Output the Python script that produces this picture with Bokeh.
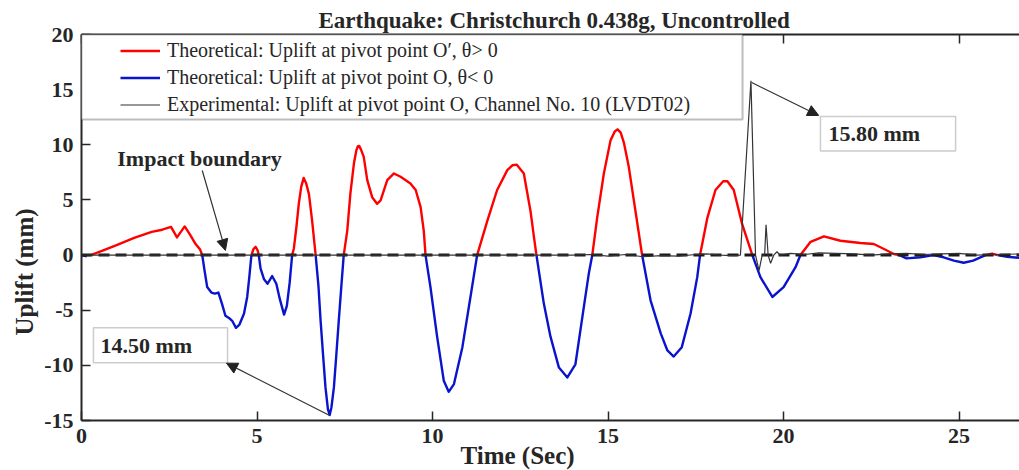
import numpy as np
from bokeh.plotting import figure
from bokeh.models import (Range1d, LinearAxis, Legend, LegendItem, Label, Arrow, Title,
                          NormalHead, BoxAnnotation, FixedTicker, PrintfTickFormatter)
from bokeh.embed import file_html
from bokeh.resources import INLINE

# ---------------- data ----------------
theo_time = [
    0, 0.15, 0.3, 0.6, 1.0, 1.5, 2.0, 2.3, 2.55, 2.72, 2.94, 3.1, 3.25, 3.38, 3.44,
    3.5, 3.58, 3.7, 3.8, 3.9, 4.0, 4.1, 4.2, 4.3, 4.4, 4.5, 4.63, 4.72, 4.78, 4.84,
    4.9, 4.96, 5.02, 5.05,
    5.1, 5.2, 5.3, 5.43, 5.55, 5.65, 5.77, 5.85, 5.93, 6.0,
    6.05, 6.12, 6.19, 6.26, 6.33, 6.4, 6.48, 6.57, 6.67,
    6.75, 6.81, 6.88, 6.95, 7.02, 7.07, 7.12, 7.19, 7.26, 7.33, 7.4, 7.47,
    7.57, 7.66, 7.76, 7.83, 7.87, 7.91, 7.97, 8.04, 8.14, 8.28, 8.42, 8.52, 8.71, 8.9, 9.09, 9.37, 9.52, 9.66, 9.75, 9.8,
    9.94, 10.13, 10.32, 10.46, 10.61, 10.85, 11.08, 11.27,
    11.56, 11.84, 12.13, 12.28, 12.4, 12.6, 12.79, 12.89, 12.96,
    13.17, 13.36, 13.6, 13.84, 14.07, 14.31, 14.45, 14.55,
    14.69, 14.88, 15.07, 15.19, 15.27, 15.36, 15.45, 15.59, 15.78, 15.97,
    16.21, 16.5, 16.69, 16.87, 17.1, 17.35, 17.54, 17.62,
    17.83, 18.06, 18.28, 18.4, 18.58, 18.82, 19.11,
    19.34, 19.68, 20.0, 20.34, 20.48,
    20.77, 21.15, 21.62, 22.19, 22.57, 22.86, 23.14, 23.3,
    23.5, 23.9, 24.27, 24.56, 24.85, 25.13, 25.4, 25.75, 25.94, 26.1, 26.37, 26.72,
]
theo_uplift = [
    0, -0.12, 0.05, 0.4, 0.9, 1.55, 2.1, 2.3, 2.55, 1.6, 2.6, 1.8, 1.0, 0.5, 0,
    -1.3, -2.9, -3.4, -3.5, -3.4, -4.4, -5.5, -5.7, -6.0, -6.6, -6.3, -5.3, -3.8, -2.0, 0,
    0.55, 0.75, 0.4, 0,
    -1.2, -2.2, -2.6, -1.9, -2.6, -4.0, -5.4, -4.6, -2.5, 0,
    0.6, 2.5, 4.65, 6.2, 7.0, 6.5, 5.5, 3.1, 0,
    -2.8, -5.9, -9.0, -12.0, -14.0, -14.5, -13.8, -12.0, -9.0, -5.9, -2.9, 0,
    2.2, 5.6, 8.3, 9.5, 9.85, 9.9, 9.5, 8.9, 6.8, 5.25, 4.65, 4.95, 6.8, 7.4, 7.1, 6.5, 5.9, 4.35, 2.2, 0,
    -2.9, -7.4, -11.4, -12.4, -11.7, -8.35, -3.8, 0,
    3.1, 5.9, 7.7, 8.15, 8.2, 7.4, 4.0, 1.6, 0,
    -4.4, -7.4, -10.2, -11.1, -9.9, -4.7, -1.7, 0,
    3.4, 7.4, 10.4, 11.2, 11.4, 11.1, 10.2, 8.0, 4.0, 0,
    -4.1, -7.1, -8.65, -9.2, -8.35, -5.3, -2.0, 0,
    3.4, 5.9, 6.7, 6.7, 5.9, 2.8, 0,
    -2.0, -3.8, -2.9, -1.1, 0,
    1.2, 1.7, 1.3, 1.1, 1.0, 0.55, 0.1, 0,
    -0.3, -0.2, 0, -0.2, -0.5, -0.7, -0.5, 0, 0.12, 0, -0.15, -0.25,
]

exp_time = [0, 1, 2, 3, 4, 5, 6, 7, 8, 9, 10, 11, 12, 13, 14,
            14.5, 15, 15.5, 16, 16.5, 17, 17.5,
            17.8, 18.2, 18.6, 18.77,
            19.07, 19.2, 19.3, 19.39, 19.46, 19.5, 19.56, 19.63, 19.72, 19.81, 19.9,
            20.2, 20.6, 21.0, 21.5, 22.0, 22.5, 23.0, 23.5, 24.0, 24.5, 25.0, 25.5, 26.0, 26.72]
exp_uplift = [0, 0, 0, 0, 0, 0, 0, 0, 0, 0, 0, 0, 0, 0, 0,
              0.05, -0.1, 0.05, -0.15, -0.05, -0.1, 0.05,
              0.1, 0, -0.05, 0,
              15.8, 0, -1.4, 0, 0, 2.75, 0, -0.75, 0, 0.3, 0,
              0.15, 0.05, 0.2, 0.15, 0.1, 0, 0.1, 0.15, 0.05, 0.1, 0.15, 0, 0.05, 0.1]

boundary_time = [0, 26.72]
boundary_uplift = [0, 0]

x_ticks = [0, 5, 10, 15, 20, 25]
y_ticks = [-15, -10, -5, 0, 5, 10, 15, 20]

legend_labels = [
    "Theoretical: Uplift at pivot point O\u2032, \u03b8> 0",
    "Theoretical: Uplift at pivot point O, \u03b8< 0",
    "Experimental: Uplift at pivot point O, Channel No. 10 (LVDT02)",
]

# ---------------- split theoretical into positive (red) / negative (blue) ----------------
tu = np.array(theo_uplift, dtype=float)
tt = np.array(theo_time, dtype=float)
red_u = np.where(tu >= 0, tu, np.nan)
blue_u = np.where(tu <= 0, tu, np.nan)

FONT = "Liberation Serif"
DARK = "#262626"

p = figure(width=1019, height=470, x_range=Range1d(0, 26.72), y_range=Range1d(-15, 20),
           output_backend="svg", toolbar_location=None,
           min_border_left=81, min_border_right=0, min_border_top=34, min_border_bottom=50,
           background_fill_color="white", border_fill_color="white")
p.outline_line_color = None
p.grid.visible = False


def style_axis(ax, ticks, labels=True):
    ax.ticker = FixedTicker(ticks=ticks)
    ax.formatter = PrintfTickFormatter(format="%d")
    ax.major_tick_in = 9
    ax.major_tick_out = 0
    ax.minor_tick_line_color = None
    ax.axis_line_width = 2
    ax.axis_line_color = DARK
    ax.major_tick_line_width = 1.5
    ax.major_tick_line_color = DARK
    ax.major_label_text_font = FONT
    ax.major_label_text_font_style = "bold"
    ax.major_label_text_color = DARK
    ax.major_label_text_font_size = "22px"
    ax.major_label_standoff = 8
    if not labels:
        ax.major_label_text_alpha = 0
        ax.major_label_standoff = 0


style_axis(p.xaxis[0], x_ticks)
style_axis(p.yaxis[0], y_ticks)
top_axis = LinearAxis()
style_axis(top_axis, x_ticks, labels=False)
top_axis.major_label_text_font_size = "1px"
p.add_layout(top_axis, "above")

# titles / axis titles as side-panel titles
p.title.text = "Earthquake: Christchurch 0.438g, Uncontrolled"
p.title.align = "left"
p.title.offset = 237
p.title.text_font = FONT
p.title.text_font_style = "bold"
p.title.text_font_size = "23px"
p.title.text_color = DARK
p.title.standoff = 3

p.add_layout(Title(text="Uplift (mm)", align="left", offset=85, standoff=7,
                   text_font=FONT, text_font_style="bold", text_font_size="25px",
                   text_color=DARK), "left")
p.add_layout(Title(text="Time (Sec)", align="left", offset=379, standoff=-12,
                   text_font=FONT, text_font_style="bold", text_font_size="25px",
                   text_color=DARK), "below")

r_red = p.line(tt, red_u, line_color="#FF0000", line_width=2.4, line_join="round")
r_blue = p.line(tt, blue_u, line_color="#0A14CC", line_width=2.4, line_join="round")
p.line(boundary_time, boundary_uplift, line_color="#1a1a1a", line_width=3, line_dash="11 6")
r_exp = p.line(exp_time, exp_uplift, line_color="#333333", line_width=1.2)

# legend frame
p.add_layout(BoxAnnotation(left=0, right=18.83, top=20, bottom=12.29,
                           fill_color="white", fill_alpha=1.0,
                           line_color=DARK, line_width=2))
legend = Legend(items=[LegendItem(label=legend_labels[0], renderers=[r_red]),
                       LegendItem(label=legend_labels[1], renderers=[r_blue]),
                       LegendItem(label=legend_labels[2], renderers=[r_exp])],
                location=(36, 299), padding=3, spacing=0, margin=0,
                label_height=27, glyph_height=27, glyph_width=40, label_standoff=7,
                border_line_alpha=0, background_fill_alpha=0,
                label_text_font=FONT, label_text_font_size="20px", label_text_color=DARK)
p.add_layout(legend)

# annotation boxes
p.add_layout(BoxAnnotation(left=21.05, right=24.9, top=12.57, bottom=9.44,
                           fill_color="white", fill_alpha=1.0, line_color="#555555", line_width=1.5))
p.add_layout(BoxAnnotation(left=0.34, right=4.16, top=-6.59, bottom=-9.76,
                           fill_color="white", fill_alpha=1.0, line_color="#555555", line_width=1.5))

# arrows
for xs, ys, xe, ye in [(3.44, 7.67, 4.10, 0.42), (19.09, 15.65, 21.0, 12.66), (7.07, -14.55, 4.13, -9.8)]:
    p.add_layout(Arrow(x_start=xs, y_start=ys, x_end=xe, y_end=ye,
                       line_color="#333333", line_width=1.2,
                       end=NormalHead(size=11, fill_color="#222222", line_color="#222222")))


def add_text(x, y, text, size):
    p.add_layout(Label(x=x, y=y, text=text, text_font=FONT, text_font_style="bold",
                       text_font_size=size, text_color=DARK, text_align="left",
                       text_baseline="middle"))


add_text(21.28, 11.02, "15.80 mm", "22px")
add_text(0.54, -8.2, "14.50 mm", "22px")
add_text(1.02, 8.76, "Impact boundary", "22px")

open("out.html", "w").write(file_html(p, INLINE))
